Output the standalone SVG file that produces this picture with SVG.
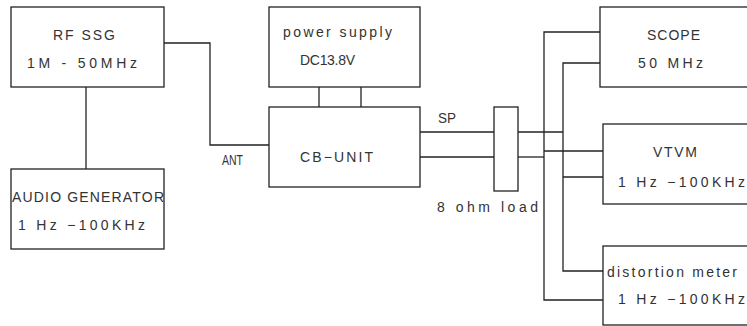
<svg xmlns="http://www.w3.org/2000/svg" width="747" height="326" viewBox="0 0 747 326">
<style>
.box{fill:#fff;stroke:#222;stroke-width:1.3}
.w{fill:none;stroke:#222;stroke-width:1.3}
text{font-family:"Liberation Sans",Arial,sans-serif;font-size:14px;fill:#333}
</style>
<rect width="747" height="326" fill="#fff"/>
<g id="connectors">
<polyline class="w" points="164,43 210,43 210,145 269,145"/>
<line class="w" x1="86" y1="87" x2="86" y2="169"/>
<line class="w" x1="319" y1="87" x2="319" y2="107"/>
<line class="w" x1="361" y1="87" x2="361" y2="107"/>
<line class="w" x1="420" y1="132" x2="494" y2="132"/>
<line class="w" x1="420" y1="157" x2="494" y2="157"/>
<line class="w" x1="518" y1="132" x2="563" y2="132"/>
<line class="w" x1="518" y1="157" x2="544" y2="157"/>
<polyline class="w" points="600,32 544,32 544,300 603,300"/>
<polyline class="w" points="600,63 563,63 563,271 603,271"/>
<line class="w" x1="544" y1="151" x2="603" y2="151"/>
<line class="w" x1="563" y1="177" x2="603" y2="177"/>
</g>
<g id="rf-ssg">
<rect class="box" x="11" y="7" width="153" height="80"/>
<text x="53" y="40" textLength="62" lengthAdjust="spacing">RF SSG</text>
<text x="27" y="68" textLength="110" lengthAdjust="spacing">1M - 50MHz</text>
</g>
<g id="audio-generator">
<rect class="box" x="11" y="169" width="153" height="80"/>
<text x="12" y="202" textLength="152" lengthAdjust="spacing">AUDIO GENERATOR</text>
<text x="18" y="230" textLength="127" lengthAdjust="spacing">1 Hz −100KHz</text>
</g>
<g id="ant-label">
<text x="222" y="165" textLength="21" lengthAdjust="spacingAndGlyphs">ANT</text>
</g>
<g id="power-supply">
<rect class="box" x="269" y="7" width="151" height="80"/>
<text x="283" y="37" textLength="109" lengthAdjust="spacing">power supply</text>
<text x="300" y="65" textLength="55" lengthAdjust="spacing">DC13.8V</text>
</g>
<g id="cb-unit">
<rect class="box" x="269" y="107" width="151" height="80"/>
<text x="300" y="162" textLength="73" lengthAdjust="spacing">CB−UNIT</text>
</g>
<g id="sp-label">
<text x="438" y="123" textLength="18" lengthAdjust="spacingAndGlyphs">SP</text>
</g>
<g id="load">
<rect class="box" x="494" y="107" width="24" height="84"/>
<text x="437" y="212" textLength="101" lengthAdjust="spacing">8 ohm load</text>
</g>
<g id="scope">
<rect class="box" x="600" y="7" width="160" height="80"/>
<text x="647" y="40" textLength="53" lengthAdjust="spacing">SCOPE</text>
<text x="638" y="68" textLength="65" lengthAdjust="spacing">50 MHz</text>
</g>
<g id="vtvm">
<rect class="box" x="603" y="124" width="160" height="80"/>
<text x="653" y="157" textLength="44" lengthAdjust="spacing">VTVM</text>
<text x="618" y="187" textLength="127" lengthAdjust="spacing">1 Hz −100KHz</text>
</g>
<g id="distortion-meter">
<rect class="box" x="603" y="246" width="160" height="79"/>
<text x="607" y="277" textLength="130" lengthAdjust="spacing">distortion meter</text>
<text x="618" y="304" textLength="127" lengthAdjust="spacing">1 Hz −100KHz</text>
</g>
</svg>
